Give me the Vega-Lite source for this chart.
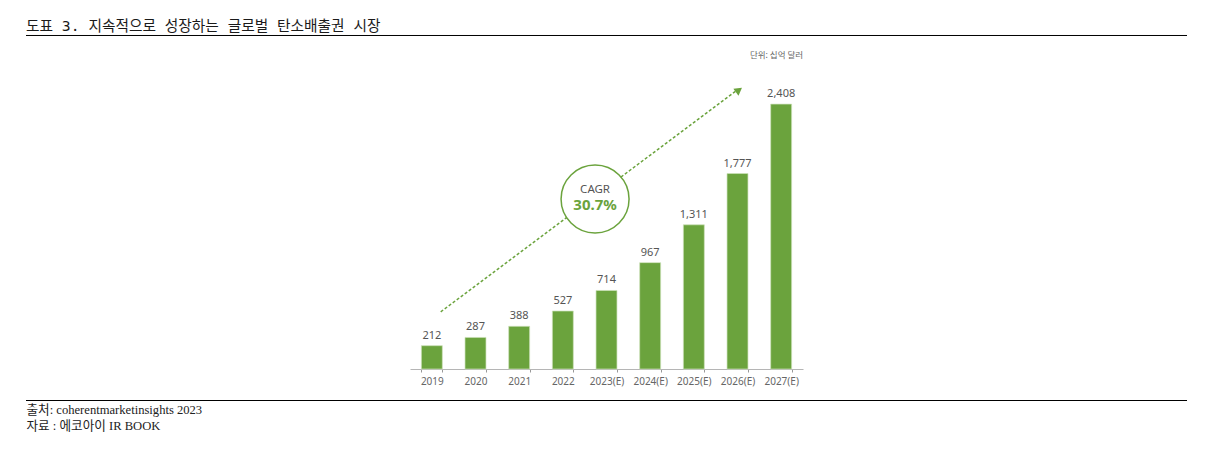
{
  "$schema": "https://vega.github.io/schema/vega-lite/v6.json",
  "width": 1222,
  "height": 369,
  "padding": {"left": 0, "top": 0, "right": 0, "bottom": 93},
  "autosize": {"type": "none"},
  "background": "white",
  "title": {
    "text": "도표 3. 지속적으로 성장하는 글로벌 탄소배출권 시장",
    "anchor": "start",
    "frame": "group",
    "orient": "top",
    "dx": 26,
    "offset": -46,
    "baseline": "alphabetic",
    "font": "DejaVu Sans Mono, Noto Sans CJK KR",
    "fontSize": 14.7,
    "fontWeight": "normal",
    "color": "#1a1a1a"
  },
  "datasets": {
    "market": [
      {"year": "2019", "value": 212, "label": "212"},
      {"year": "2020", "value": 287, "label": "287"},
      {"year": "2021", "value": 388, "label": "388"},
      {"year": "2022", "value": 527, "label": "527"},
      {"year": "2023(E)", "value": 714, "label": "714"},
      {"year": "2024(E)", "value": 967, "label": "967"},
      {"year": "2025(E)", "value": 1311, "label": "1,311"},
      {"year": "2026(E)", "value": 1777, "label": "1,777"},
      {"year": "2027(E)", "value": 2408, "label": "2,408"}
    ],
    "trend": [
      {"t": 2019.2, "v": 520},
      {"t": 2025.97, "v": 2527}
    ],
    "rules": [
      {"name": "header", "v": 3031.8},
      {"name": "footer", "v": -286.4}
    ]
  },
  "layer": [
    {
      "data": {"name": "rules"},
      "mark": {"type": "rule", "color": "#000000", "strokeWidth": 1, "clip": false},
      "encoding": {
        "x": {"datum": 0, "type": "quantitative", "scale": {"domain": [0, 1], "range": [26, 1187]}, "axis": null},
        "x2": {"datum": 1},
        "y": {"field": "v", "type": "quantitative", "axis": null}
      }
    },
    {
      "data": {"name": "market"},
      "mark": {"type": "bar", "color": "#6ba33d", "stroke": "#cfe2bb", "strokeWidth": 0.7},
      "encoding": {
        "x": {
          "field": "year",
          "type": "ordinal",
          "sort": null,
          "scale": {"range": [410, 803], "paddingInner": 0.52, "paddingOuter": 0.26},
          "axis": {
            "orient": "bottom",
            "title": ["출처: coherentmarketinsights 2023", "자료 : 에코아이 IR BOOK"],
            "titleX": 26,
            "titleY": 44,
            "titleAlign": "left",
            "titleAnchor": "start",
            "titleBaseline": "alphabetic",
            "titleFont": "Liberation Serif, Noto Sans CJK KR",
            "titleFontSize": 12.6,
            "titleFontWeight": "normal",
            "titleColor": "#222222",
            "titleLineHeight": 16,
            "labelAngle": 0,
            "labelFont": "Noto Sans",
            "labelFontSize": 10,
            "labelColor": "#666666",
            "labelPadding": 4,
            "ticks": true,
            "tickBand": "extent",
            "tickSize": 3,
            "tickWidth": 1,
            "tickOpacity": 1,
            "tickColor": "#999999",
            "domainColor": "#b5b5b5",
            "grid": false
          }
        },
        "y": {
          "field": "value",
          "type": "quantitative",
          "scale": {"domain": [0, 3354.5], "nice": false},
          "axis": null
        }
      }
    },
    {
      "data": {"name": "market"},
      "mark": {"type": "text", "font": "Noto Sans", "fontSize": 11, "color": "#555555", "baseline": "alphabetic", "dy": -7},
      "encoding": {
        "x": {
          "field": "year",
          "type": "ordinal",
          "sort": null,
          "scale": {"range": [410, 803], "paddingInner": 0.52, "paddingOuter": 0.26},
          "axis": null
        },
        "y": {"field": "value", "type": "quantitative"},
        "text": {"field": "label"}
      }
    },
    {
      "data": {"name": "trend"},
      "mark": {"type": "line", "color": "#6ba33d", "strokeWidth": 1.5, "strokeDash": [3, 2], "clip": false},
      "encoding": {
        "x": {"field": "t", "type": "quantitative", "scale": {"domain": [2019, 2028], "range": [432, 824.4], "zero": false, "nice": false}, "axis": null},
        "y": {"field": "v", "type": "quantitative"}
      }
    },
    {
      "data": {"values": [{"t": 2026.04, "v": 2536}]},
      "mark": {"type": "point", "shape": "triangle-up", "filled": true, "color": "#6ba33d", "opacity": 1, "size": 75, "angle": 53.4},
      "encoding": {
        "x": {"field": "t", "type": "quantitative", "scale": {"domain": [2019, 2028], "range": [432, 824.4], "zero": false, "nice": false}, "axis": null},
        "y": {"field": "v", "type": "quantitative"}
      }
    },
    {
      "data": {"values": [{"t": 2022.74, "v": 1545}]},
      "mark": {"type": "point", "shape": "circle", "filled": true, "fill": "white", "stroke": "#6ba33d", "strokeWidth": 1.5, "opacity": 1, "size": 4624},
      "encoding": {
        "x": {"field": "t", "type": "quantitative", "scale": {"domain": [2019, 2028], "range": [432, 824.4], "zero": false, "nice": false}, "axis": null},
        "y": {"field": "v", "type": "quantitative"}
      }
    },
    {
      "data": {"values": [{"t": 2022.74, "v": 1627, "text": "CAGR"}]},
      "mark": {"type": "text", "font": "Noto Sans", "fontSize": 11.5, "color": "#555555"},
      "encoding": {
        "x": {"field": "t", "type": "quantitative", "scale": {"domain": [2019, 2028], "range": [432, 824.4], "zero": false, "nice": false}, "axis": null},
        "y": {"field": "v", "type": "quantitative"},
        "text": {"field": "text"}
      }
    },
    {
      "data": {"values": [{"t": 2022.74, "v": 1491, "text": "30.7%"}]},
      "mark": {"type": "text", "font": "Noto Sans", "fontSize": 15, "fontWeight": "bold", "color": "#6ba33d"},
      "encoding": {
        "x": {"field": "t", "type": "quantitative", "scale": {"domain": [2019, 2028], "range": [432, 824.4], "zero": false, "nice": false}, "axis": null},
        "y": {"field": "v", "type": "quantitative"},
        "text": {"field": "text"}
      }
    },
    {
      "data": {"values": [{"t": 2027.51, "v": 2854, "text": "단위: 십억 달러"}]},
      "mark": {"type": "text", "font": "Noto Sans CJK KR", "fontSize": 8.5, "color": "#666666", "align": "right"},
      "encoding": {
        "x": {"field": "t", "type": "quantitative", "scale": {"domain": [2019, 2028], "range": [432, 824.4], "zero": false, "nice": false}, "axis": null},
        "y": {"field": "v", "type": "quantitative"},
        "text": {"field": "text"}
      }
    }
  ],
  "resolve": {"scale": {"x": "independent"}, "axis": {"x": "independent"}},
  "config": {"view": {"stroke": null}}
}
